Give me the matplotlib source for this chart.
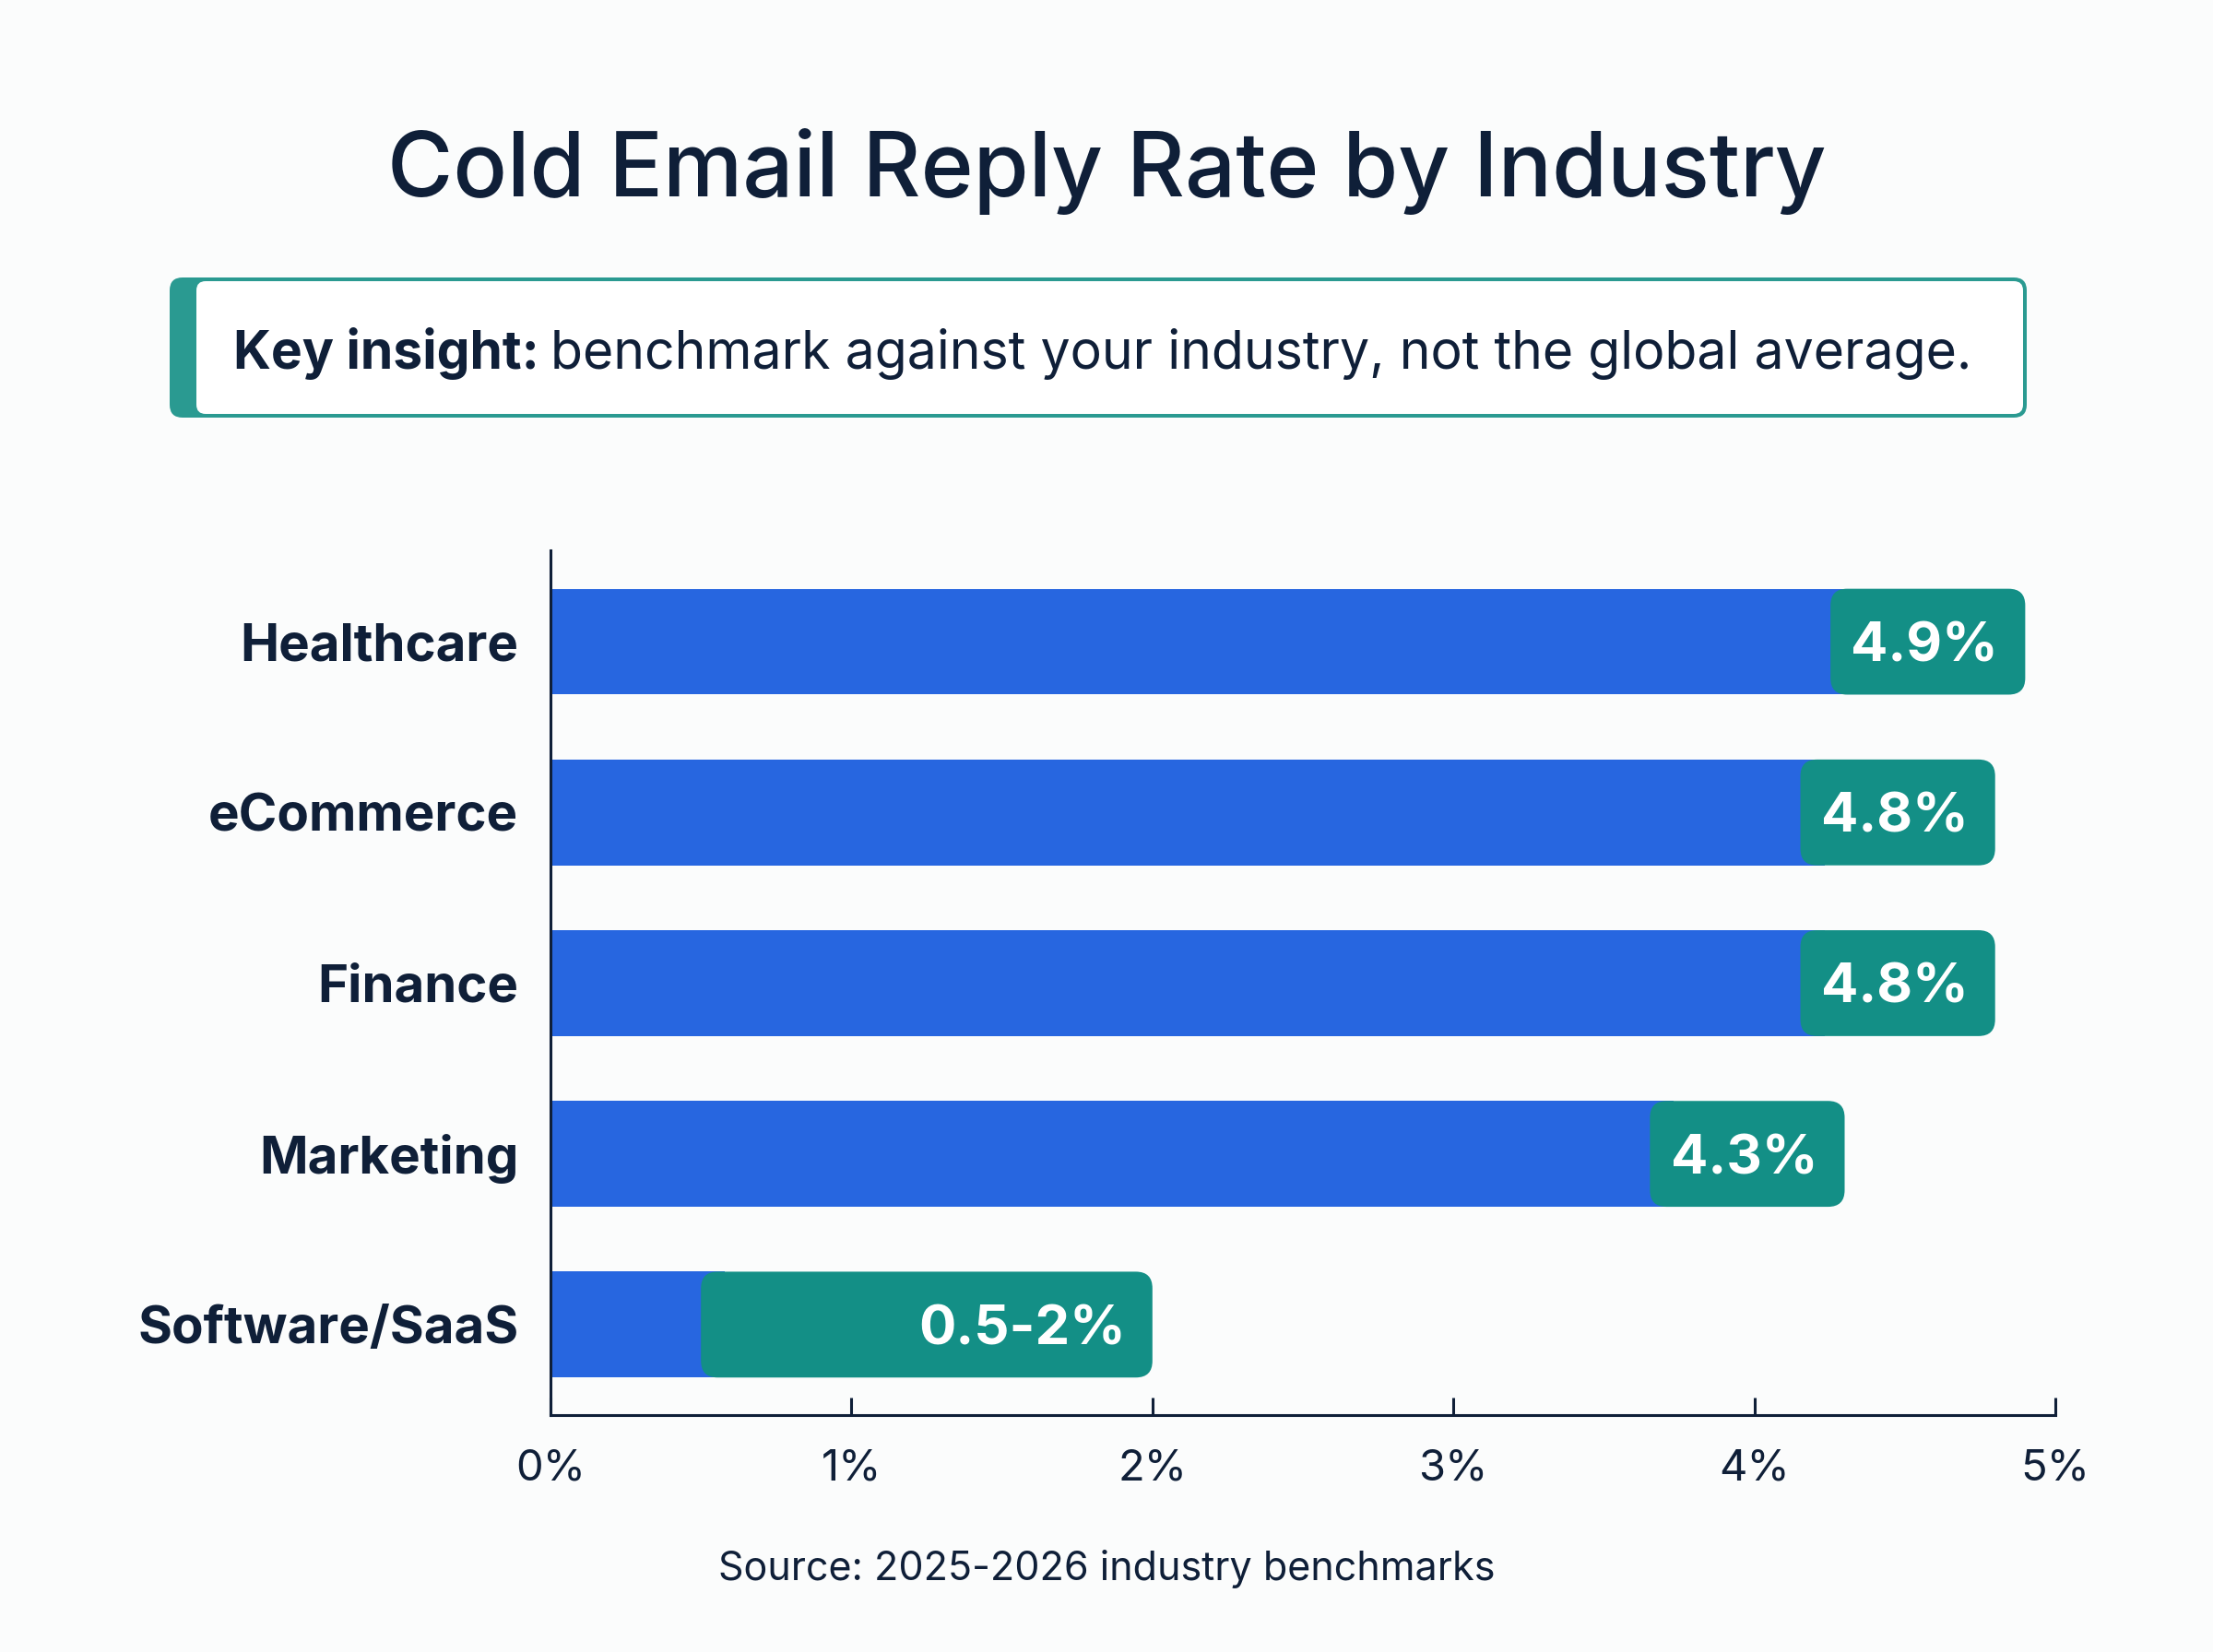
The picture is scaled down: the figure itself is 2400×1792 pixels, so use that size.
import matplotlib
matplotlib.use("Agg")
import numpy as np
import matplotlib.pyplot as plt
from matplotlib.patches import FancyBboxPatch
from matplotlib.ticker import FuncFormatter
import matplotlib.transforms as mtransforms

plt.rcParams['font.family'] = ['Inter', 'DejaVu Sans']

# data
industries = ["Healthcare", "eCommerce", "Finance", "Marketing", "Software/SaaS"]
reply_rate = [4.9, 4.8, 4.8, 4.3, 2.0]
range_low = [np.nan, np.nan, np.nan, np.nan, 0.5]
rate_labels = ["4.9%", "4.8%", "4.8%", "4.3%", "0.5-2%"]
x_ticks = [0, 1, 2, 3, 4, 5]

BLUE = "#2766E0"
TEAL = "#138F86"
NAVY = "#0F1F38"
BG = "#FBFCFC"

W, H = 2400, 1792
fig = plt.figure(figsize=(12, 8.96), dpi=200, facecolor=BG)

# main axes, placed in pixel units
ax_l, ax_r, ax_t, ax_b = 597, 2229, 597, 1535
ax = fig.add_axes([ax_l / W, 1 - ax_b / H, (ax_r - ax_l) / W, (ax_b - ax_t) / H])
ax.set_facecolor("none")

y = np.arange(len(industries))
ax.set_xlim(0, 5)
ax.set_ylim(4.53, -0.535)

bar_h = 0.62
cap_w = 0.647
rate = np.array(reply_rate)
cap_start = np.where(np.isnan(range_low), rate - cap_w, range_low)

# blue bar runs under the teal cap so the cap's rounded corners stay clean
ax.barh(y, cap_start + 0.08, height=bar_h, color=BLUE, zorder=2)

x_per_px = 5 / (ax_r - ax_l)
y_per_px = (4.53 + 0.535) / (ax_b - ax_t)
aspect = y_per_px / x_per_px
r = 18 * x_per_px
off = mtransforms.offset_copy(ax.transData, fig=fig, x=-10.5, y=0, units="points")
for i, v in enumerate(reply_rate):
    lo = cap_start[i]
    box = FancyBboxPatch((lo, i - bar_h / 2), v - lo, bar_h,
                         boxstyle=f"round,pad=0,rounding_size={r}",
                         mutation_aspect=aspect, facecolor=TEAL,
                         edgecolor="none", zorder=3)
    ax.add_patch(box)
    ax.text(v, i, rate_labels[i], transform=off, ha="right", va="center_baseline",
            color="white", fontsize=21.5, fontweight="bold", zorder=4)

ax.set_yticks(y)
ax.set_yticklabels(industries, fontsize=20.3, fontweight="bold", color=NAVY)
ax.tick_params(axis="y", length=0, pad=12.5)

ax.set_xticks(x_ticks)
ax.xaxis.set_major_formatter(FuncFormatter(lambda v, p: f"{v:.0f}%"))
ax.tick_params(axis="x", direction="in", length=7, width=1.1, color=NAVY,
               labelsize=17, labelcolor=NAVY, pad=13)

for s in ["top", "right"]:
    ax.spines[s].set_visible(False)
for s in ["left", "bottom"]:
    ax.spines[s].set_color(NAVY)
    ax.spines[s].set_linewidth(1.1)

# overlay in pixel coordinates for title, insight box and source
ov = fig.add_axes([0, 0, 1, 1])
ov.set_xlim(0, W)
ov.set_ylim(H, 0)
ov.axis("off")
ov.set_facecolor("none")

ov.text(W / 2, 186, "Cold Email Reply Rate by Industry", ha="center", va="center",
        fontsize=35, fontweight="medium", color=NAVY)

bx0, bx1, by0, by1 = 184, 2198, 301, 453
ov.add_patch(FancyBboxPatch((bx0, by0), bx1 - bx0, by1 - by0,
                            boxstyle="round,pad=0,rounding_size=14",
                            facecolor=TEAL, edgecolor="none", alpha=0.9))
ov.add_patch(FancyBboxPatch((213, by0 + 4), bx1 - 4 - 213, by1 - by0 - 8,
                            boxstyle="round,pad=0,rounding_size=10",
                            facecolor="white", edgecolor="none"))
t1 = ov.text(253, 378, "Key insight:", ha="left", va="center_baseline",
             fontsize=20.5, fontweight="bold", color=NAVY)
fig.canvas.draw()
bb = t1.get_window_extent()
ov.text(bb.x1 + 12, 378, "benchmark against your industry, not the global average.",
        ha="left", va="center_baseline", fontsize=20.6, color=NAVY)

ov.text(W / 2, 1702, "Source: 2025-2026 industry benchmarks", ha="center", va="center",
        fontsize=15.5, color=NAVY)

fig.savefig("out.png", dpi=200, facecolor=BG)
